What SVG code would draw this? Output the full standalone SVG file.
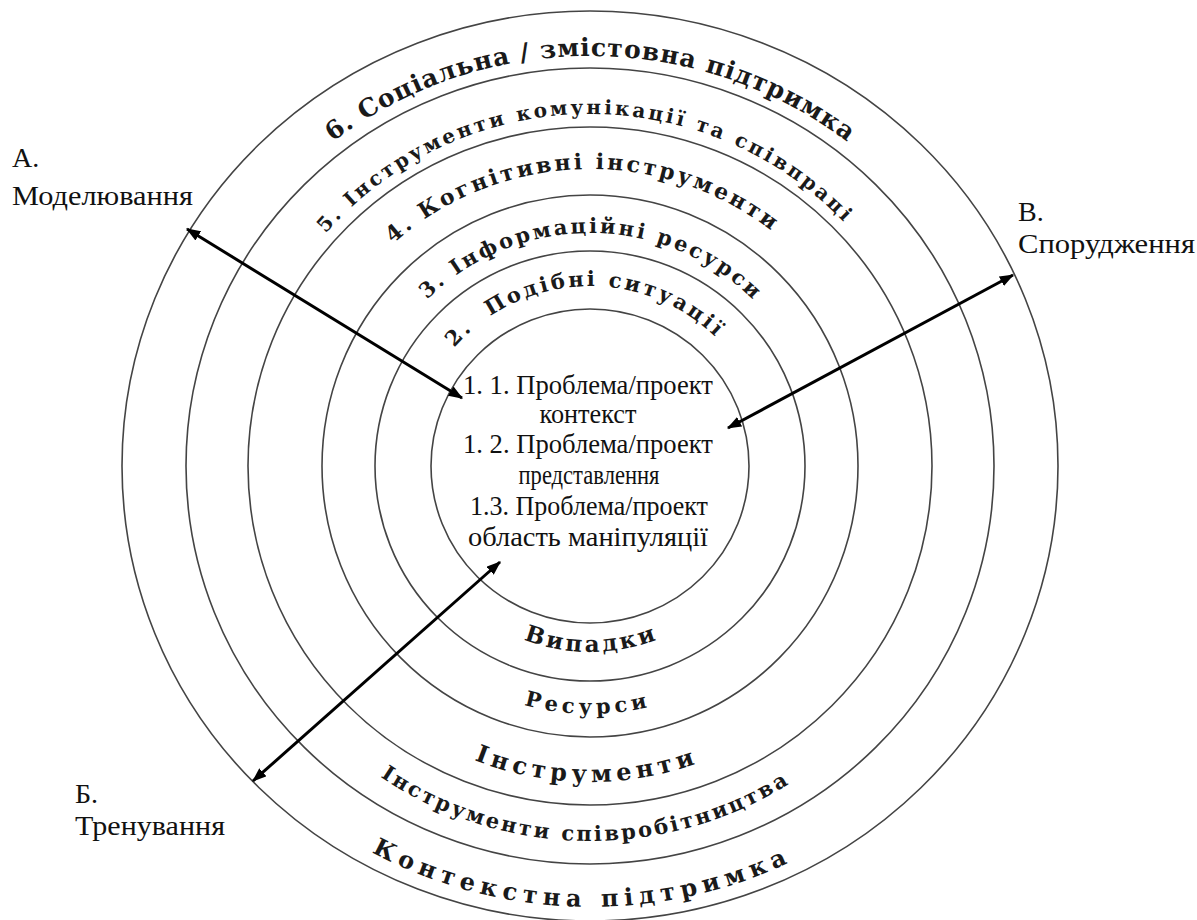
<svg xmlns="http://www.w3.org/2000/svg" width="1197" height="920" viewBox="0 0 1197 920">
<defs>
<style>
.ring{fill:none;stroke:#444;stroke-width:1.6}
.arc{font-family:"DejaVu Serif","Liberation Serif",serif;font-weight:bold;fill:#1a1a1a}
.core{font-family:"Liberation Serif","Times New Roman",serif;font-size:28px;fill:#111;text-anchor:middle}
.lbl{font-family:"Liberation Serif","Times New Roman",serif;font-size:28px;fill:#111}
.conn{stroke:#000;stroke-width:3;fill:none;marker-start:url(#ah);marker-end:url(#ah)}
</style>
<marker id="ah" viewBox="0 0 12 9" refX="11" refY="4.5" markerWidth="4.8" markerHeight="3.6" orient="auto-start-reverse" markerUnits="strokeWidth"><path d="M0,0 L12,4.5 L0,9 z" fill="#000"/></marker>
<path id="pT2" d="M410,466 A180 180 0 0 1 770,466"/>
<path id="pT3" d="M357,466 A233 233 0 0 1 823,466"/>
<path id="pT4" d="M293,466 A297 297 0 0 1 887,466"/>
<path id="pT5" d="M238,466 A352 352 0 0 1 942,466"/>
<path id="pT6" d="M170,466 A420 410 0 0 1 1010,466"/>
<path id="pB2" d="M404,466 A186 186 0 0 0 776,466"/>
<path id="pB3" d="M342,466 A248 248 0 0 0 838,466"/>
<path id="pB4" d="M274,466 A316 316 0 0 0 906,466"/>
<path id="pB5" d="M215,466 A375 375 0 0 0 965,466"/>
<path id="pB6" d="M136,466 A454 441 0 0 0 1044,466"/>
</defs>
<rect width="1197" height="920" fill="#fff"/>

<g id="layer6">
<ellipse class="ring" cx="590" cy="466" rx="468" ry="455"/>
<text class="arc" font-size="25" text-anchor="middle"><textPath href="#pT6" startOffset="50%" textLength="552" lengthAdjust="spacing">6. Соціальна / змістовна підтримка</textPath></text>
<text class="arc" font-size="24" text-anchor="middle" transform="rotate(1.5 590 466)"><textPath href="#pB6" startOffset="50%" textLength="432" lengthAdjust="spacing">Контекстна підтримка</textPath></text>
</g>

<g id="layer5">
<ellipse class="ring" cx="590" cy="466" rx="404" ry="398"/>
<text class="arc" font-size="20" text-anchor="middle" transform="rotate(-1.3 590 466)"><textPath href="#pT5" startOffset="50%" textLength="582" lengthAdjust="spacing">5. Інструменти комунікації та співпраці</textPath></text>
<text class="arc" font-size="21" text-anchor="middle" transform="rotate(1 590 466)"><textPath href="#pB5" startOffset="50%" textLength="432" lengthAdjust="spacing">Інструменти співробітництва</textPath></text>
</g>

<g id="layer4">
<ellipse class="ring" cx="590" cy="466" rx="342" ry="339"/>
<text class="arc" font-size="22" text-anchor="middle" transform="rotate(-2 590 466)"><textPath href="#pT4" startOffset="50%" textLength="410" lengthAdjust="spacing">4. Когнітивні інструменти</textPath></text>
<text class="arc" font-size="24" text-anchor="middle" transform="rotate(1 590 466)"><textPath href="#pB4" startOffset="50%" textLength="226" lengthAdjust="spacing">Інструменти</textPath></text>
</g>

<g id="layer3">
<ellipse class="ring" cx="590" cy="466" rx="268" ry="271"/>
<text class="arc" font-size="21" text-anchor="middle"><textPath href="#pT3" startOffset="50%" textLength="361" lengthAdjust="spacing">3. Інформаційні ресурси</textPath></text>
<text class="arc" font-size="21" text-anchor="middle" transform="rotate(1 590 466)"><textPath href="#pB3" startOffset="50%" textLength="125" lengthAdjust="spacing">Ресурси</textPath></text>
</g>

<g id="layer2">
<ellipse class="ring" cx="590" cy="466" rx="215" ry="215"/>
<text class="arc" font-size="21" text-anchor="middle" transform="rotate(-2.5 590 466)" style="white-space:pre"><textPath href="#pT2" startOffset="50%" textLength="292" lengthAdjust="spacing">2.  Подібні ситуації</textPath></text>
<text class="arc" font-size="23" text-anchor="middle"><textPath href="#pB2" startOffset="50%" textLength="136" lengthAdjust="spacing">Випадки</textPath></text>
</g>

<g id="core">
<ellipse class="ring" cx="590" cy="466" rx="159" ry="157"/>
<text class="core" x="588" y="394" textLength="250" lengthAdjust="spacingAndGlyphs">1. 1. Проблема/проект</text>
<text class="core" x="588" y="423" textLength="97" lengthAdjust="spacingAndGlyphs">контекст</text>
<text class="core" x="588" y="453" textLength="250" lengthAdjust="spacingAndGlyphs">1. 2. Проблема/проект</text>
<text class="core" x="589" y="484" textLength="141" lengthAdjust="spacingAndGlyphs">представлення</text>
<text class="core" x="589" y="515" textLength="238" lengthAdjust="spacingAndGlyphs">1.3. Проблема/проект</text>
<text class="core" x="588" y="546" textLength="240" lengthAdjust="spacingAndGlyphs">область маніпуляції</text>
</g>

<g id="label-a">
<text class="lbl" x="12" y="167">А.</text>
<text class="lbl" x="12" y="205" textLength="181" lengthAdjust="spacingAndGlyphs">Моделювання</text>
</g>
<g id="label-v">
<text class="lbl" x="1018" y="221">В.</text>
<text class="lbl" x="1018" y="253" textLength="177" lengthAdjust="spacingAndGlyphs">Спорудження</text>
</g>
<g id="label-b">
<text class="lbl" x="75" y="803">Б.</text>
<text class="lbl" x="75" y="835" textLength="150" lengthAdjust="spacingAndGlyphs">Тренування</text>
</g>

<g id="connectors">
<line class="conn" x1="187" y1="229" x2="462" y2="398"/>
<line class="conn" x1="1013" y1="275" x2="728" y2="428"/>
<line class="conn" x1="253" y1="781" x2="500" y2="562"/>
</g>
</svg>
